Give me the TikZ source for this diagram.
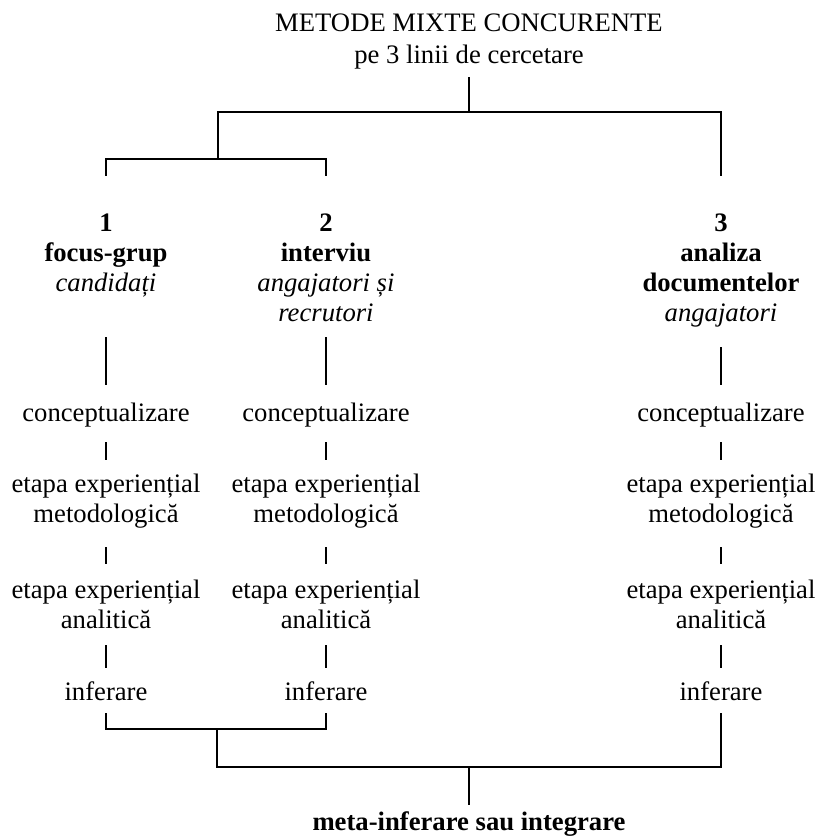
\documentclass[tikz,border=0pt]{standalone}
\usepackage{fontspec}
\setmainfont{Liberation Serif}
\begin{document}
\begin{tikzpicture}[x=0.75pt,y=-0.75pt,
  txt/.style={inner sep=0pt, align=center, anchor=base,
    font=\fontsize{20pt}{22.5pt}\selectfont},
  conn/.style={line width=1.1pt, line cap=rect}]
\useasboundingbox (0,0) rectangle (817,840);
% texts (anchor = baseline of the last line)
\node[txt] (title) at (469,63.5) {METODE MIXTE CONCURENTE\\[1.5pt]pe 3 linii de cercetare};
\node[txt] (h1) at (106,291.5) {\textbf{1}\\\textbf{focus-grup}\\\textit{candidați}};
\node[txt] (h2) at (326,321.7) {\textbf{2}\\\textbf{interviu}\\\textit{angajatori și}\\\textit{recrutori}};
\node[txt] (h3) at (721,321.7) {\textbf{3}\\\textbf{analiza}\\\textbf{documentelor}\\\textit{angajatori}};
\foreach \c/\x in {1/106,2/326,3/721}{
  \node[txt] (k\c) at (\x,421.5) {conceptualizare};
  \node[txt] (m\c) at (\x,522) {etapa experiențial\\metodologică};
  \node[txt] (a\c) at (\x,628.5) {etapa experiențial\\analitică};
  \node[txt] (i\c) at (\x,700) {inferare};
}
\node[txt] (meta) at (469,830) {\textbf{meta-inferare sau integrare}};
% junction coordinates
\coordinate (t0) at (469,78);
\coordinate (t1) at (469,112);
\coordinate (tl) at (218,112);
\coordinate (tr) at (721,112);
\coordinate (tl2) at (218,159);
\coordinate (b1) at (106,729);
\coordinate (b2) at (326,729);
\coordinate (bm) at (217,729);
\coordinate (bl) at (217,767);
\coordinate (br) at (721,767);
\coordinate (bc) at (469,767);
\coordinate (be) at (469,804);
% top tree
\draw[conn] (t0) -- (t1);
\draw[conn] (tl2) -- (tl) -- (tr) -- (h3.north |- 0,175);
\draw[conn] (h1.north |- 0,175) -- (h1.north |- tl2) -- (h2.north |- tl2) -- (h2.north |- 0,175);
% column lines
\draw[conn] (h1.south |- 0,338) -- (k1.north |- 0,384);
\draw[conn] (h2.south |- 0,338) -- (k2.north |- 0,384);
\draw[conn] (h3.south |- 0,348) -- (k3.north |- 0,384);
\foreach \c in {1,2,3}{
  \draw[conn] (k\c.south |- 0,443) -- (m\c.north |- 0,459);
  \draw[conn] (m\c.south |- 0,548) -- (a\c.north |- 0,563);
  \draw[conn] (a\c.south |- 0,646) -- (i\c.north |- 0,667);
}
% bottom tree
\draw[conn] (i1.south |- 0,714) -- (b1) -- (b2) -- (i2.south |- 0,714);
\draw[conn] (bm) -- (bl) -- (br) -- (i3.south |- 0,714);
\draw[conn] (bc) -- (be);
\end{tikzpicture}
\end{document}
